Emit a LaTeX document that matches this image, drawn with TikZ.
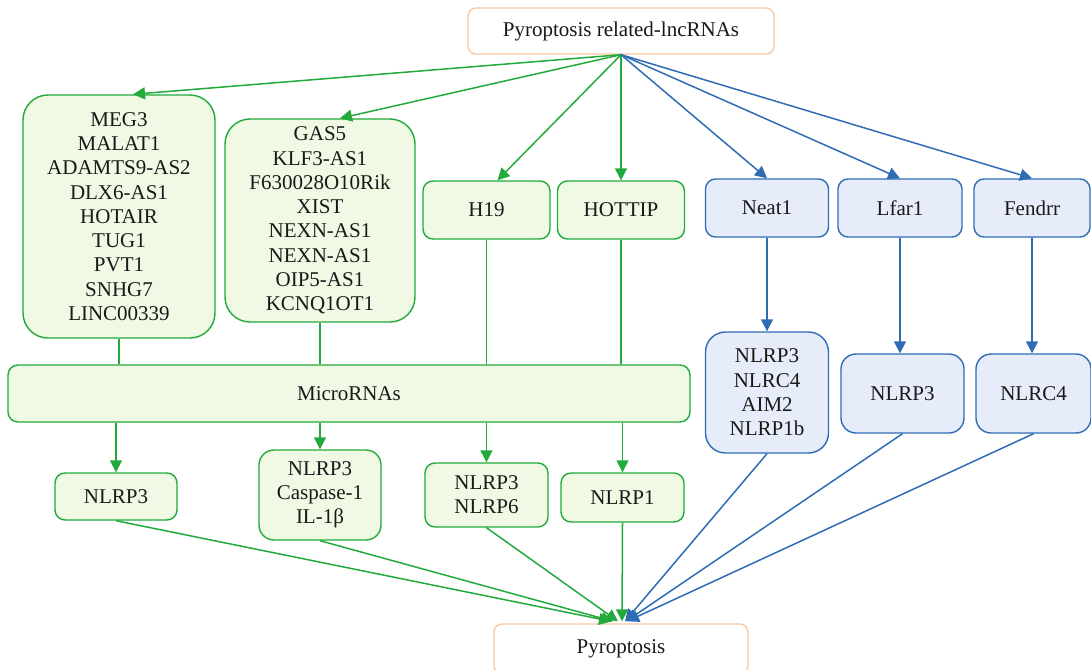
\documentclass[tikz,border=0pt]{standalone}
\usepackage{fontspec}
\setmainfont{Liberation Serif}
\usepackage{tikz}
\usetikzlibrary{arrows.meta}
\definecolor{mirgreen}{HTML}{22AA3C}
\definecolor{mirfill}{HTML}{F0F9E4}
\definecolor{lncblue}{HTML}{2E6DB4}
\definecolor{lncfill}{HTML}{E6ECFA}
\definecolor{pyroorange}{HTML}{F8C8A0}

\begin{document}
\begin{tikzpicture}[
    x=1pt, y=-1pt,
    every node/.style={font=\rmfamily\fontsize{21}{24.25}\selectfont, align=center, line width=1.4pt, inner sep=2pt, text=black!90},
    greenbox/.style={draw=mirgreen, fill=mirfill, rounded corners=10pt},
    bluebox/.style={draw=lncblue, fill=lncfill, rounded corners=10pt},
    endbox/.style={draw=pyroorange, fill=white, rounded corners=8pt},
    gline/.style={draw=mirgreen, line width=1.5pt},
    garrow/.style={gline, -{Triangle[length=12pt,width=12pt]}},
    barrow/.style={draw=lncblue, line width=1.5pt, -{Triangle[length=12pt,width=12pt]}}
]
\useasboundingbox (0,0) rectangle (1091,669);

\node[endbox, minimum width=306pt, minimum height=46pt] (lnc) at (621,31) {Pyroptosis related-lncRNAs};
\node[greenbox, rounded corners=25pt, minimum width=192pt, minimum height=243pt] (grpA) at (119,216.5)
  {MEG3\\MALAT1\\ADAMTS9-AS2\\DLX6-AS1\\HOTAIR\\TUG1\\PVT1\\SNHG7\\LINC00339};
\node[greenbox, rounded corners=25pt, minimum width=190pt, minimum height=203pt] (grpB) at (320,220.5)
  {GAS5\\KLF3-AS1\\F630028O10Rik\\XIST\\NEXN-AS1\\NEXN-AS1\\OIP5-AS1\\KCNQ1OT1};
\node[greenbox, minimum width=127pt, minimum height=58pt] (h19) at (486.5,210) {H19};
\node[greenbox, minimum width=127pt, minimum height=58pt] (hottip) at (621,210) {HOTTIP};
\node[bluebox, minimum width=123pt, minimum height=58pt] (neat) at (767,208) {Neat1};
\node[bluebox, minimum width=124pt, minimum height=58pt] (lfar) at (900,208) {Lfar1};
\node[bluebox, minimum width=116pt, minimum height=58pt] (fendrr) at (1032,208) {Fendrr};

\node[greenbox, minimum width=682pt, minimum height=57pt] (mirna) at (349,393.5) {MicroRNAs};

\node[greenbox, minimum width=122pt, minimum height=47pt] (tgtA) at (116,496.5) {NLRP3};
\node[greenbox, rounded corners=15pt, minimum width=122pt, minimum height=90pt] (tgtB) at (320,495) {NLRP3\\Caspase-1\\IL-1β};
\node[greenbox, minimum width=123pt, minimum height=64pt] (tgtC) at (486.5,495) {NLRP3\\NLRP6};
\node[greenbox, minimum width=123pt, minimum height=49pt] (tgtD) at (622.5,497.5) {NLRP1};

\node[bluebox, rounded corners=20pt, minimum width=123pt, minimum height=121pt] (infA) at (767,392.5) {NLRP3\\NLRC4\\AIM2\\NLRP1b};
\node[bluebox, rounded corners=15pt, minimum width=123pt, minimum height=79pt] (infB) at (902.5,393.5) {NLRP3};
\node[bluebox, rounded corners=15pt, minimum width=115pt, minimum height=79pt] (infC) at (1033.5,393.5) {NLRC4};

\node[endbox, minimum width=254pt, minimum height=50pt] (pyro) at (621,649) {Pyroptosis};

\draw[garrow] (lnc.south) -- ([xshift=14pt]grpA.north);
\draw[garrow] (lnc.south) -- ([xshift=20pt]grpB.north);
\draw[garrow] (lnc.south) -- ([xshift=11pt]h19.north);
\draw[garrow] (lnc.south) -- (hottip.north);
\draw[barrow] (lnc.south) -- (neat.north);
\draw[barrow] (lnc.south) -- (lfar.north);
\draw[barrow] (lnc.south) -- (fendrr.north);

\foreach \src in {grpA,grpB,h19,hottip}
  \draw[gline] (\src.south) -- (\src.south |- mirna.north);
\foreach \tgt in {tgtA,tgtB,tgtC,tgtD}
  \draw[garrow] (\tgt.north |- mirna.south) -- (\tgt.north);

\draw[barrow] (neat.south) -- (neat.south |- infA.north);
\draw[barrow] (lfar.south) -- (lfar.south |- infB.north);
\draw[barrow] (fendrr.south) -- (fendrr.south |- infC.north);

\draw[garrow] (tgtA.south) -- ([xshift=-10pt,yshift=2pt]pyro.north);
\draw[garrow] (tgtB.south) -- ([xshift=-8pt,yshift=2pt]pyro.north);
\draw[garrow] (tgtC.south) -- ([xshift=-3pt,yshift=2pt]pyro.north);
\draw[garrow] (tgtD.south) -- ([xshift=1pt,yshift=2pt]pyro.north);
\draw[barrow] (infA.south) -- ([xshift=4pt,yshift=2pt]pyro.north);
\draw[barrow] (infB.south) -- ([xshift=5pt,yshift=2pt]pyro.north);
\draw[barrow] (infC.south) -- ([xshift=6pt,yshift=2pt]pyro.north);
\end{tikzpicture}
\end{document}
